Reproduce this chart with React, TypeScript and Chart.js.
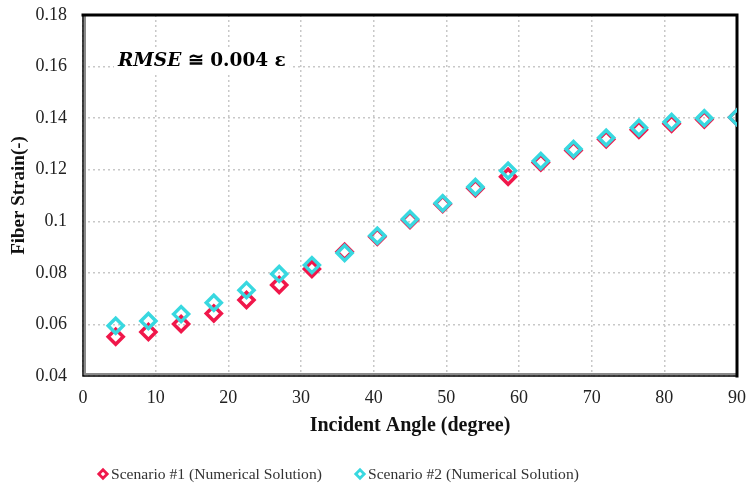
import React, { useEffect, useRef } from "react";
import { Chart, registerables } from "chart.js";

Chart.register(...registerables);

const angles = [4.5, 9, 13.5, 18, 22.5, 27, 31.5, 36, 40.5, 45, 49.5, 54, 58.5, 63, 67.5, 72, 76.5, 81, 85.5, 90];
const scenario1 = [0.0552, 0.0571, 0.0602, 0.0642, 0.0695, 0.0753, 0.0815, 0.0882, 0.0940, 0.1005, 0.1067, 0.1128, 0.1173, 0.1228, 0.1275, 0.1318, 0.1355, 0.1378, 0.1395, 0.1403];
const scenario2 = [0.0595, 0.0613, 0.0640, 0.0684, 0.0733, 0.0796, 0.0830, 0.0877, 0.0944, 0.1009, 0.1070, 0.1133, 0.1196, 0.1234, 0.1280, 0.1324, 0.1363, 0.1385, 0.1400, 0.1403];
const seriesNames = ["Scenario #1 (Numerical Solution)", "Scenario #2 (Numerical Solution)"];
const xTitle = "Incident Angle (degree)";
const yTitle = "Fiber Strain(-)";

const RED = "#F0174A";
const CYAN = "#38D8E0";
const SERIF = "'Liberation Serif', 'Times New Roman', serif";

const framePlugin = {
  id: "frame",
  beforeDatasetsDraw(chart: any) {
    const { ctx, chartArea: a } = chart;
    ctx.save();
    // annotation box
    const tx = 118, ty = 66;
    const fs = 18.5;
    ctx.font = `bold italic ${fs}px 'DejaVu Serif', ${SERIF}`;
    const p1 = "RMSE";
    const w1 = ctx.measureText(p1).width;
    ctx.font = `bold ${fs}px 'DejaVu Serif', ${SERIF}`;
    const p2 = " \u2245 0.004 \u03b5";
    const w2 = ctx.measureText(p2).width;
    ctx.fillStyle = "#fff";
    ctx.fillRect(tx - 4, ty - 19, w1 + w2 + 8, 26);
    ctx.fillStyle = "#000";
    ctx.textBaseline = "alphabetic";
    ctx.font = `bold italic ${fs}px 'DejaVu Serif', ${SERIF}`;
    ctx.fillText(p1, tx, ty);
    ctx.font = `bold ${fs}px 'DejaVu Serif', ${SERIF}`;
    ctx.fillText(p2, tx + w1, ty);
    // frame
    ctx.lineCap = "square";
    ctx.strokeStyle = "#8a8a8a";
    ctx.lineWidth = 2;
    ctx.beginPath();
    ctx.moveTo(a.left + 2, a.top);
    ctx.lineTo(a.left + 2, a.bottom - 2);
    ctx.lineTo(a.right, a.bottom - 2);
    ctx.stroke();
    ctx.strokeStyle = "#000";
    ctx.lineWidth = 1.5;
    ctx.beginPath();
    ctx.moveTo(a.left, a.top);
    ctx.lineTo(a.left, a.bottom);
    ctx.lineTo(a.right, a.bottom);
    ctx.stroke();
    ctx.lineWidth = 3;
    ctx.beginPath();
    ctx.moveTo(a.left, a.top);
    ctx.lineTo(a.right, a.top);
    ctx.lineTo(a.right, a.bottom);
    ctx.stroke();
    ctx.restore();
  },
  afterDraw(chart: any) {
    const { ctx } = chart;
    const y = 474;
    const items = [
      { x: 103, color: chart.data.datasets[0].borderColor, text: chart.data.datasets[0].label },
      { x: 360, color: chart.data.datasets[1].borderColor, text: chart.data.datasets[1].label },
    ];
    ctx.save();
    ctx.font = `15.6px ${SERIF}`;
    ctx.textBaseline = "middle";
    ctx.textAlign = "left";
    for (const it of items) {
      const r = 4.2;
      ctx.beginPath();
      ctx.moveTo(it.x, y - r);
      ctx.lineTo(it.x + r, y);
      ctx.lineTo(it.x, y + r);
      ctx.lineTo(it.x - r, y);
      ctx.closePath();
      ctx.lineWidth = 2.8;
      ctx.strokeStyle = it.color;
      ctx.stroke();
      ctx.fillStyle = "#333";
      ctx.fillText(it.text, it.x + 8, y + 1);
    }
    ctx.restore();
  },
};

export default function App() {
  const ref = useRef<HTMLCanvasElement>(null);
  useEffect(() => {
    document.body.style.margin = "0";
    const chart = new Chart(ref.current!, {
      type: "scatter",
      data: {
        datasets: [
          {
            label: seriesNames[0],
            data: angles.map((x, i) => ({ x, y: scenario1[i] })),
            pointStyle: "rectRot",
            pointRadius: 7.5,
            pointBorderWidth: 3.5,
            borderColor: RED,
            backgroundColor: "rgba(0,0,0,0)",
            order: 1,
          },
          {
            label: seriesNames[1],
            data: angles.map((x, i) => ({ x, y: scenario2[i] })),
            pointStyle: "rectRot",
            pointRadius: 7.5,
            pointBorderWidth: 3.5,
            borderColor: CYAN,
            backgroundColor: "rgba(0,0,0,0)",
            order: 0,
          },
        ],
      },
      options: {
        animation: false,
        responsive: false,
        layout: { autoPadding: false, padding: { left: 0, right: 10, top: 15, bottom: 49 } },
        plugins: {
          tooltip: { enabled: false },
          legend: { display: false },
        },
        scales: {
          x: {
            type: "linear",
            min: 0,
            max: 90,
            ticks: { stepSize: 10, color: "#222", font: { family: SERIF, size: 18 }, padding: 11 },
            grid: { color: "#c8c8c8", lineWidth: 1.5, drawTicks: false },
            border: { display: false, dash: [2, 3] },
            title: { display: true, text: xTitle, color: "#111", font: { family: SERIF, size: 20, weight: "bold" }, padding: { top: 4, bottom: 0 } },
            afterFit: (s: any) => { s.height = 62; s.paddingLeft = 0; s.paddingRight = 0; },
          },
          y: {
            min: 0.04,
            max: 0.18,
            ticks: {
              stepSize: 0.02,
              color: "#222",
              font: { family: SERIF, size: 18 },
              padding: 16,
              callback: (v: any) => String(Number(Number(v).toFixed(2))),
            },
            grid: { color: "#c8c8c8", lineWidth: 1.5, drawTicks: false },
            border: { display: false, dash: [2, 3] },
            title: { display: true, text: yTitle, color: "#111", font: { family: SERIF, size: 19, weight: "bold" }, padding: { top: 8, bottom: 8 } },
            afterFit: (s: any) => { s.width = 83; s.paddingTop = 0; s.paddingBottom = 0; },
          },
        },
      },
      plugins: [framePlugin],
    });
    return () => chart.destroy();
  }, []);
  return <canvas ref={ref} width={747} height={487} style={{ display: "block" }} />;
}
